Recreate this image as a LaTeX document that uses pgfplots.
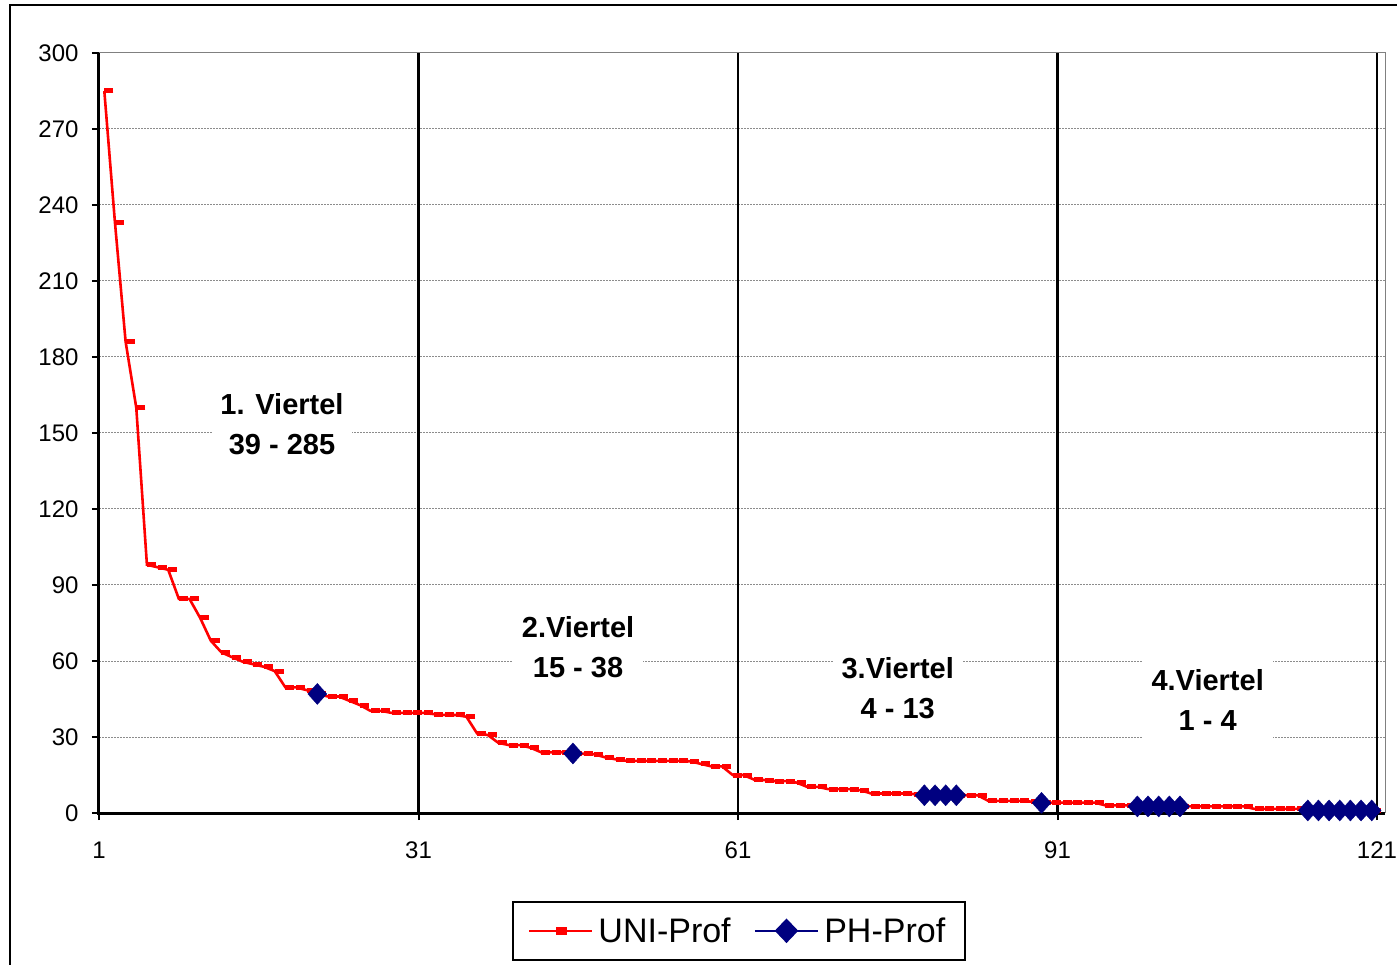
\documentclass[border=0pt]{standalone}
\usepackage{fontspec}
\setmainfont{Liberation Sans}
\usepackage{pgfplots}
\pgfplotsset{compat=1.18}
\definecolor{navyb}{RGB}{0,0,128}

\pgfplotstableread{
x y
1.5 285
2.5 233
3.5 186
4.5 160
5.5 98
6.5 97
7.5 96
8.5 84.5
9.5 84.5
10.5 77
11.5 68
12.5 63.4
13.5 61.5
14.5 59.7
15.5 58.7
16.5 57.7
17.5 56
18.5 49.6
19.5 49.6
20.5 48.5
21.5 47
22.5 46
23.5 46
24.5 44.3
25.5 42.6
26.5 40.3
27.5 40.3
28.5 39.5
29.5 39.5
30.5 39.5
31.5 39.5
32.5 39
33.5 38.7
34.5 38.7
35.5 38
36.5 31.4
37.5 30.8
38.5 27.7
39.5 26.8
40.5 26.8
41.5 25.8
42.5 24
43.5 24
44.5 24
45.5 23.5
46.5 23.4
47.5 23.2
48.5 22
49.5 21.2
50.5 20.6
51.5 20.6
52.5 20.6
53.5 20.6
54.5 20.6
55.5 20.6
56.5 20.4
57.5 19.4
58.5 18.4
59.5 18.4
60.5 15
61.5 15
62.5 13.2
63.5 13
64.5 12.6
65.5 12.6
66.5 12
67.5 10.3
68.5 10.3
69.5 9.4
70.5 9.4
71.5 9.4
72.5 9
73.5 7.7
74.5 7.7
75.5 7.7
76.5 7.7
77.5 7.5
78.5 7
79.5 7
80.5 7
81.5 7
82.5 7
83.5 7
84.5 4.8
85.5 4.8
86.5 4.8
87.5 4.8
88.5 4.5
89.5 4
90.5 4.1
91.5 4.1
92.5 4.1
93.5 4.1
94.5 4.1
95.5 3
96.5 3
97.5 3
98.5 2.6
99.5 2.6
100.5 2.6
101.5 2.6
102.5 2.6
103.5 2.6
104.5 2.6
105.5 2.6
106.5 2.6
107.5 2.6
108.5 2.6
109.5 1.6
110.5 1.6
111.5 1.6
112.5 1.6
113.5 1.6
114.5 1.3
115.5 1
116.5 1
117.5 1
118.5 1
119.5 1
120.5 1
}\uni

\pgfplotstableread{
x y
21.5 47
45.5 23.5
78.5 7
79.5 7
80.5 7
81.5 7
89.5 4
98.5 2.6
99.5 2.6
100.5 2.6
101.5 2.6
102.5 2.6
114.5 1
115.5 1
116.5 1
117.5 1
118.5 1
119.5 1
120.5 1
}\ph

\begin{document}
\begin{tikzpicture}
\useasboundingbox (0pt,0pt) rectangle (1397pt,964pt);
\draw[black, line width=2.2pt] (10pt,-20pt) -- (10pt,959pt) -- (1420pt,959pt);
\begin{axis}[
  at={(99pt,151pt)}, anchor=south west,
  scale only axis, width=1286pt, height=760pt,
  xmin=1, xmax=121.75, ymin=0, ymax=300,
  xtick={1,31,61,91,121},
  ytick={0,30,60,90,120,150,180,210,240,270,300},
  tick pos=left, tick align=outside,
  major tick length=7pt,
  tick style={black, line width=2pt},
  axis line style={draw=none},
  ymajorgrids,
  grid style={gray!90, dash pattern=on 2pt off 1pt, line width=1pt},
  clip=false,
  /pgf/number format/assume math mode=true,
  ticklabel style={font=\fontsize{24}{28}\selectfont},
  yticklabel style={xshift=-10pt},
  xticklabel style={yshift=-18pt},
  legend columns=2,
  legend style={at={(0.4977,-0.155)}, anchor=center, draw=black, line width=1.8pt,
    fill=white, font=\fontsize{34}{40}\selectfont,
    inner xsep=15pt, inner ysep=11pt,
    /tikz/every even column/.append style={column sep=18pt},
    nodes={inner sep=5pt}},
]
\draw[black, line width=2.4pt] (axis cs:31,0) -- (axis cs:31,300);
\draw[black, line width=2.4pt] (axis cs:61,0) -- (axis cs:61,300);
\draw[black, line width=2.4pt] (axis cs:91,0) -- (axis cs:91,300);
\draw[black, line width=2.4pt] (axis cs:121,0) -- (axis cs:121,300);

\node[fill=white, align=center, font=\fontsize{29}{40}\selectfont\bfseries, minimum width=140pt, minimum height=80pt, inner sep=0pt] at (axis cs:18.18,153.6) {1. Viertel\\39 - 285};
\node[fill=white, align=center, font=\fontsize{29}{40}\selectfont\bfseries, minimum width=130pt, minimum height=80pt, inner sep=0pt] at (axis cs:45.98,65.5) {2.Viertel\\15 - 38};
\node[fill=white, align=center, font=\fontsize{29}{40}\selectfont\bfseries, minimum width=130pt, minimum height=80pt, inner sep=0pt] at (axis cs:76.0,49.3) {3.Viertel\\4 - 13};
\node[fill=white, align=center, font=\fontsize{29}{40}\selectfont\bfseries, minimum width=130pt, minimum height=80pt, inner sep=0pt] at (axis cs:105.1,44.6) {4.Viertel\\1 - 4};

\addplot[red, line width=2.6pt, mark=-, mark size=4.5pt,
  mark options={line width=5pt, xshift=4.5pt, solid},
  legend image code/.code={
    \draw[red, line width=2.6pt] (0pt,0pt) -- (63pt,0pt);
    \fill[red] (28pt,-2.5pt) rectangle (37pt,3pt);
  }] table[x=x,y=y] {\uni};
\addlegendentry{UNI-Prof}

\addplot[only marks, mark=diamond*, mark size=10.5pt, color=navyb,
  mark options={xscale=1.2, fill=navyb, draw=navyb},
  legend image code/.code={
    \draw[navyb, line width=2.6pt] (0pt,0pt) -- (63pt,0pt);
    \fill[navyb] (31.5pt,11pt) -- (42pt,0pt) -- (31.5pt,-11pt) -- (21pt,0pt) -- cycle;
  }] table[x=x,y=y] {\ph};
\addlegendentry{PH-Prof}

\draw[gray, line width=1pt] (rel axis cs:0,1) -- (rel axis cs:1,1) -- (rel axis cs:1,0);
\draw[black, line width=3pt] (rel axis cs:0,1) -- (rel axis cs:0,0) -- (rel axis cs:1,0);
\end{axis}
\end{tikzpicture}
\end{document}
